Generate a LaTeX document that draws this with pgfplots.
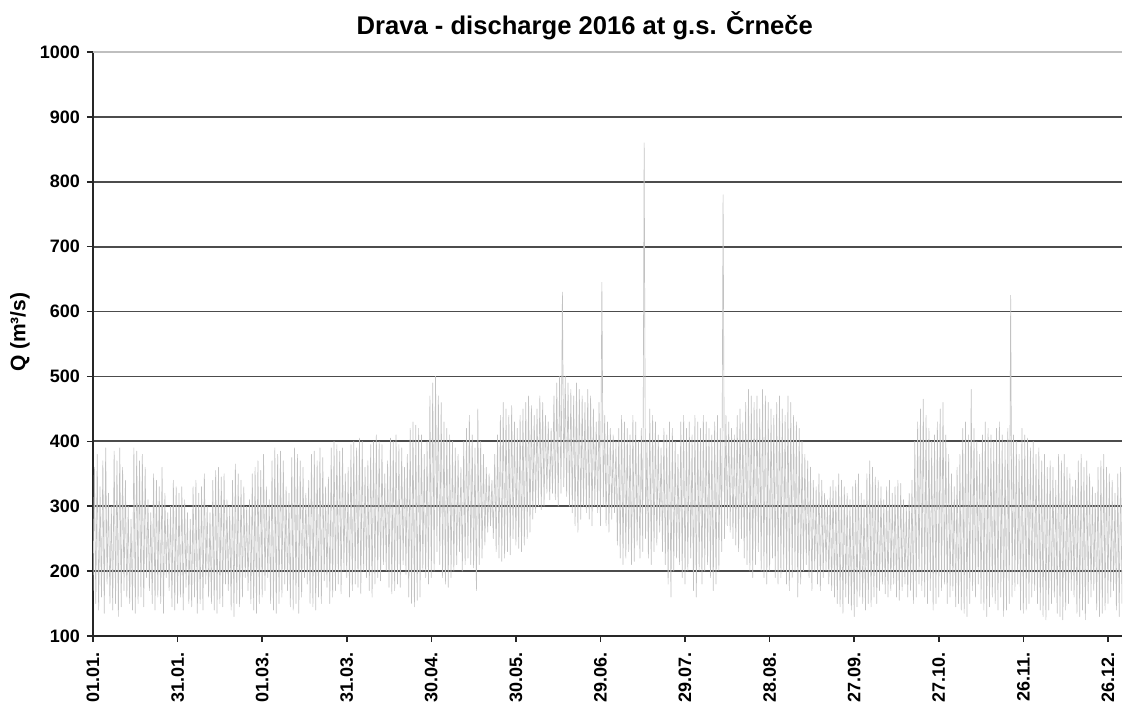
\documentclass[border=0pt]{standalone}
\usepackage{fontspec}
\setmainfont{Liberation Sans}
\usepackage{pgfplots}
\pgfplotsset{compat=1.18}

\begin{document}
\begin{tikzpicture}
\begin{axis}[
  scale only axis,
  width=514.5pt, height=292pt,
  xmin=0, xmax=365, ymin=100, ymax=1000,
  axis x line*=bottom, axis y line*=left,
  axis line style={black!85, line width=1pt},
  xtick={0,30,...,360},
  xticklabels={01.01.,31.01.,01.03.,31.03.,30.04.,30.05.,29.06.,29.07.,28.08.,27.09.,27.10.,26.11.,26.12.},
  ytick={100,200,...,900},
  extra y ticks={1000},
  extra y tick style={grid style={black!25, line width=0.8pt}},
  ymajorgrids,
  grid style={black!70, line width=0.9pt},
  tick align=outside,
  major tick length=3pt,
  tick style={black!85, line width=0.8pt},
  /pgf/number format/1000 sep={},
  /pgf/number format/assume math mode=true,
  ticklabel style={font=\bfseries\fontsize{9}{10}\selectfont},
  x tick label style={rotate=90, anchor=east, xshift=-1.5pt},
  title={Drava - discharge 2016 at g.s. Črneče},
  title style={at={(rel axis cs:0.478,1)}, anchor=base, yshift=3pt,
    font=\bfseries\fontsize{12.8}{14}\selectfont},
  ylabel={Q (m³/s)},
  ylabel style={at={(axis description cs:-0.0709,0.52)}, anchor=center,
    font=\bfseries\fontsize{10.5}{12}\selectfont},
]
\coordinate (O) at (axis cs:0,100);
% daily low / high of the hourly discharge, drawn as one zigzag line
\addplot[gray!48, line width=0.32pt, line join=round] coordinates {
(0,170)(0.5,360)(1,150)(1.5,380)(2,140)(2.5,330)(3,160)(3.5,370)(4,135)(4.5,390)(5,180)(5.5,320)(6,150)(6.5,300)(7,140)(7.5,385)(8,150)(8.5,370)(9,130)(9.5,390)
(10,145)(10.5,360)(11,170)(11.5,340)(12,160)(12.5,300)(13,150)(13.5,280)(14,140)(14.5,390)(15,135)(15.5,385)(16,150)(16.5,370)(17,160)(17.5,380)(18,145)(18.5,360)(19,190)(19.5,310)
(20,170)(20.5,290)(21,150)(21.5,350)(22,140)(22.5,340)(23,160)(23.5,330)(24,150)(24.5,360)(25,135)(25.5,320)(26,190)(26.5,290)(27,170)(27.5,300)(28,145)(28.5,340)(29,140)(29.5,330)
(30,150)(30.5,320)(31,160)(31.5,330)(32,140)(32.5,310)(33,175)(33.5,290)(34,150)(34.5,280)(35,145)(35.5,330)(36,160)(36.5,340)(37,135)(37.5,320)(38,150)(38.5,330)(39,140)(39.5,350)
(40,180)(40.5,300)(41,160)(41.5,290)(42,150)(42.5,340)(43,140)(43.5,355)(44,135)(44.5,360)(45,150)(45.5,345)(46,145)(46.5,350)(47,180)(47.5,310)(48,170)(48.5,300)(49,140)(49.5,340)
(50,130)(50.5,365)(51,150)(51.5,350)(52,145)(52.5,340)(53,160)(53.5,330)(54,190)(54.5,300)(55,170)(55.5,310)(56,150)(56.5,350)(57,140)(57.5,360)(58,135)(58.5,370)(59,150)(59.5,355)
(60,160)(60.5,380)(61,170)(61.5,330)(62,190)(62.5,310)(63,150)(63.5,370)(64,140)(64.5,390)(65,135)(65.5,380)(66,150)(66.5,385)(67,160)(67.5,370)(68,180)(68.5,330)(69,170)(69.5,320)
(70,145)(70.5,375)(71,140)(71.5,390)(72,150)(72.5,380)(73,135)(73.5,370)(74,160)(74.5,360)(75,190)(75.5,320)(76,180)(76.5,340)(77,150)(77.5,380)(78,145)(78.5,385)(79,140)(79.5,370)
(80,160)(80.5,390)(81,150)(81.5,375)(82,185)(82.5,330)(83,175)(83.5,345)(84,150)(84.5,390)(85,160)(85.5,400)(86,170)(86.5,395)(87,180)(87.5,385)(88,165)(88.5,390)(89,200)(89.5,350)
(90,190)(90.5,360)(91,160)(91.5,395)(92,170)(92.5,400)(93,180)(93.5,390)(94,175)(94.5,405)(95,165)(95.5,400)(96,200)(96.5,360)(97,190)(97.5,370)(98,170)(98.5,395)(99,160)(99.5,400)
(100,180)(100.5,410)(101,190)(101.5,400)(102,185)(102.5,395)(103,210)(103.5,350)(104,200)(104.5,370)(105,175)(105.5,405)(106,165)(106.5,400)(107,170)(107.5,410)(108,180)(108.5,395)(109,175)(109.5,390)
(110,210)(110.5,360)(111,195)(111.5,380)(112,160)(112.5,420)(113,150)(113.5,430)(114,145)(114.5,425)(115,155)(115.5,420)(116,160)(116.5,410)(117,200)(117.5,380)(118,190)(118.5,400)(119,180)(119.5,470)
(120,190)(120.5,490)(121,200)(121.5,500)(122,230)(122.5,470)(123,210)(123.5,460)(124,190)(124.5,430)(125,180)(125.5,420)(126,175)(126.5,410)(127,190)(127.5,400)(128,200)(128.5,390)(129,210)(129.5,380)
(130,230)(130.5,360)(131,200)(131.5,400)(132,210)(132.5,420)(133,220)(133.5,440)(134,210)(134.5,410)(135,205)(135.5,390)(136,170)(136.5,450)(137,210)(137.5,400)(138,220)(138.5,380)(139,240)(139.5,360)
(140,260)(140.5,350)(141,270)(141.5,340)(142,250)(142.5,380)(143,230)(143.5,410)(144,220)(144.5,440)(145,215)(145.5,460)(146,220)(146.5,450)(147,230)(147.5,440)(148,225)(148.5,455)(149,250)(149.5,430)
(150,240)(150.5,420)(151,235)(151.5,440)(152,230)(152.5,450)(153,240)(153.5,460)(154,250)(154.5,470)(155,260)(155.5,455)(156,280)(156.5,440)(157,290)(157.5,450)(158,300)(158.5,470)(159,295)(159.5,460)
(160,300)(160.5,440)(161,320)(161.5,430)(162,310)(162.5,420)(163,320)(163.5,470)(164,310)(164.5,490)(165,300)(165.5,500)(166,320)(166.5,630)(167,330)(167.5,500)(168,315)(168.5,490)(169,300)(169.5,480)
(170,290)(170.5,470)(171,270)(171.5,490)(172,260)(172.5,480)(173,280)(173.5,470)(174,300)(174.5,460)(175,290)(175.5,480)(176,280)(176.5,470)(177,270)(177.5,450)(178,300)(178.5,430)(179,290)(179.5,460)
(180,270)(180.5,645)(181,300)(181.5,440)(182,270)(182.5,430)(183,260)(183.5,420)(184,280)(184.5,410)(185,290)(185.5,400)(186,240)(186.5,420)(187,220)(187.5,440)(188,210)(188.5,430)(189,220)(189.5,420)
(190,230)(190.5,410)(191,210)(191.5,440)(192,215)(192.5,430)(193,240)(193.5,400)(194,220)(194.5,420)(195,230)(195.5,860)(196,250)(196.5,400)(197,220)(197.5,450)(198,210)(198.5,440)(199,230)(199.5,430)
(200,240)(200.5,410)(201,260)(201.5,390)(202,230)(202.5,420)(203,210)(203.5,410)(204,180)(204.5,430)(205,160)(205.5,420)(206,200)(206.5,400)(207,220)(207.5,380)(208,210)(208.5,430)(209,190)(209.5,440)
(210,180)(210.5,420)(211,200)(211.5,430)(212,220)(212.5,410)(213,170)(213.5,440)(214,160)(214.5,430)(215,200)(215.5,420)(216,180)(216.5,440)(217,200)(217.5,430)(218,210)(218.5,420)(219,190)(219.5,410)
(220,170)(220.5,430)(221,180)(221.5,440)(222,200)(222.5,420)(223,230)(223.5,780)(224,250)(224.5,440)(225,270)(225.5,430)(226,260)(226.5,420)(227,250)(227.5,410)(228,240)(228.5,440)(229,230)(229.5,450)
(230,250)(230.5,430)(231,220)(231.5,460)(232,210)(232.5,480)(233,200)(233.5,470)(234,190)(234.5,460)(235,210)(235.5,470)(236,230)(236.5,450)(237,200)(237.5,480)(238,190)(238.5,470)(239,180)(239.5,460)
(240,200)(240.5,450)(241,220)(241.5,440)(242,190)(242.5,460)(243,180)(243.5,470)(244,190)(244.5,450)(245,200)(245.5,440)(246,180)(246.5,470)(247,170)(247.5,460)(248,190)(248.5,440)(249,200)(249.5,430)
(250,160)(250.5,420)(251,180)(251.5,400)(252,200)(252.5,380)(253,210)(253.5,370)(254,190)(254.5,360)(255,170)(255.5,340)(256,200)(256.5,330)(257,180)(257.5,350)(258,170)(258.5,340)(259,190)(259.5,320)
(260,200)(260.5,310)(261,180)(261.5,330)(262,170)(262.5,340)(263,160)(263.5,330)(264,150)(264.5,350)(265,145)(265.5,340)(266,135)(266.5,330)(267,160)(267.5,320)(268,150)(268.5,310)(269,140)(269.5,330)
(270,130)(270.5,340)(271,145)(271.5,350)(272,160)(272.5,320)(273,150)(273.5,310)(274,140)(274.5,350)(275,150)(275.5,370)(276,145)(276.5,360)(277,160)(277.5,345)(278,150)(278.5,340)(279,170)(279.5,330)
(280,180)(280.5,310)(281,165)(281.5,330)(282,160)(282.5,340)(283,170)(283.5,320)(284,180)(284.5,330)(285,160)(285.5,340)(286,155)(286.5,335)(287,170)(287.5,310)(288,180)(288.5,300)(289,160)(289.5,320)
(290,170)(290.5,340)(291,150)(291.5,400)(292,160)(292.5,430)(293,180)(293.5,450)(294,170)(294.5,465)(295,160)(295.5,440)(296,150)(296.5,420)(297,170)(297.5,400)(298,140)(298.5,410)(299,150)(299.5,430)
(300,160)(300.5,450)(301,170)(301.5,460)(302,180)(302.5,410)(303,150)(303.5,380)(304,160)(304.5,350)(305,170)(305.5,330)(306,145)(306.5,360)(307,150)(307.5,380)(308,140)(308.5,420)(309,135)(309.5,430)
(310,130)(310.5,410)(311,150)(311.5,480)(312,170)(312.5,420)(313,160)(313.5,400)(314,180)(314.5,380)(315,150)(315.5,410)(316,140)(316.5,430)(317,130)(317.5,420)(318,145)(318.5,410)(319,160)(319.5,400)
(320,150)(320.5,420)(321,140)(321.5,430)(322,160)(322.5,410)(323,130)(323.5,400)(324,140)(324.5,420)(325,150)(325.5,625)(326,160)(326.5,410)(327,170)(327.5,400)(328,180)(328.5,380)(329,140)(329.5,420)
(330,135)(330.5,410)(331,140)(331.5,405)(332,150)(332.5,390)(333,160)(333.5,400)(334,170)(334.5,380)(335,150)(335.5,390)(336,140)(336.5,370)(337,130)(337.5,380)(338,125)(338.5,360)(339,140)(339.5,370)
(340,150)(340.5,360)(341,160)(341.5,340)(342,135)(342.5,380)(343,130)(343.5,370)(344,125)(344.5,380)(345,140)(345.5,360)(346,150)(346.5,350)(347,170)(347.5,330)(348,160)(348.5,340)(349,135)(349.5,370)
(350,130)(350.5,380)(351,140)(351.5,360)(352,125)(352.5,370)(353,150)(353.5,350)(354,160)(354.5,330)(355,170)(355.5,320)(356,140)(356.5,360)(357,130)(357.5,370)(358,135)(358.5,380)(359,140)(359.5,360)
(360,150)(360.5,350)(361,160)(361.5,340)(362,170)(362.5,320)(363,140)(363.5,350)(364,130)(364.5,360)(365,150)
};
\end{axis}
\pgfresetboundingbox
\path ([shift={(-46.5pt,-33pt)}]O) rectangle ([shift={(517pt,318pt)}]O);
\end{tikzpicture}
\end{document}
